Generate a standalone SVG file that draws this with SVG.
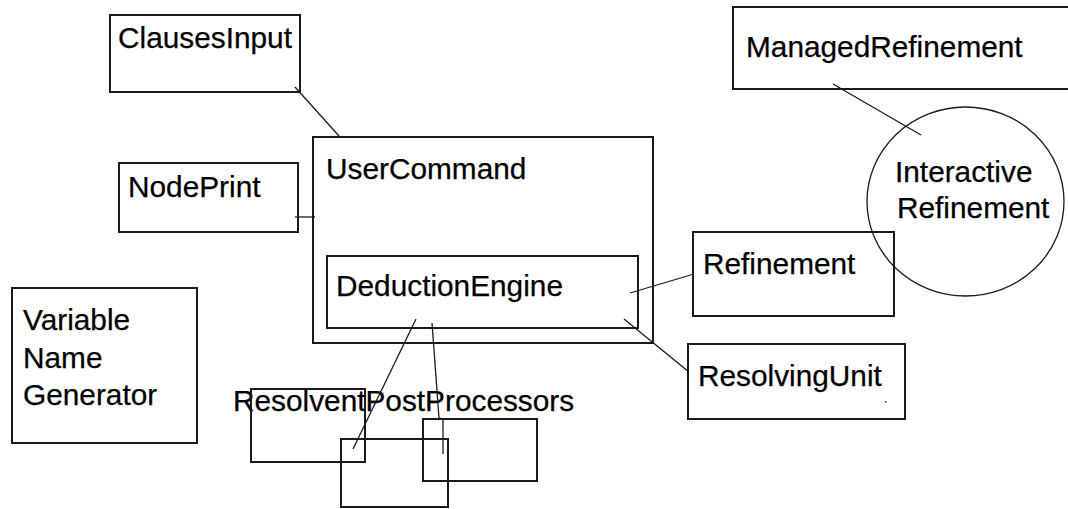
<svg xmlns="http://www.w3.org/2000/svg" width="1068" height="509" viewBox="0 0 1068 509">
<style>
.box{fill:none;stroke:#1a1a1a;stroke-width:2}
.conn{fill:none;stroke:#1a1a1a;stroke-width:1.3}
text{font-family:"Liberation Sans",Arial,sans-serif;font-size:29.8px;fill:#000;stroke:#000;stroke-width:0.25}
</style>
<rect width="1068" height="509" fill="#fff"/>
<g id="ClausesInput"><rect class="box" x="110" y="15" width="190" height="77"/><text x="118" y="48">ClausesInput</text></g>
<g id="NodePrint"><rect class="box" x="119" y="163" width="179" height="69"/><text x="128" y="197">NodePrint</text></g>
<g id="UserCommand"><rect class="box" x="313" y="137" width="340" height="206"/><text x="326" y="179">UserCommand</text></g>
<g id="DeductionEngine"><rect class="box" x="327" y="256" width="311" height="72"/><text x="336" y="296">DeductionEngine</text></g>
<g id="VariableNameGenerator"><rect class="box" x="12" y="288" width="185" height="155"/><text x="23" y="330">Variable</text><text x="23" y="368">Name</text><text x="23" y="405">Generator</text></g>
<g id="ManagedRefinement"><rect class="box" x="733" y="7" width="340" height="82"/><text x="746" y="57">ManagedRefinement</text></g>
<g id="InteractiveRefinement"><ellipse cx="965.5" cy="201.5" rx="98.5" ry="94.5" fill="none" stroke="#1a1a1a" stroke-width="1.3"/><text x="895" y="182">Interactive</text><text x="897" y="218">Refinement</text></g>
<g id="Refinement"><rect class="box" x="693" y="232" width="201" height="84"/><text x="703" y="274">Refinement</text></g>
<g id="ResolvingUnit"><rect class="box" x="688" y="344" width="217" height="75"/><text x="698" y="386">ResolvingUnit</text><rect x="885" y="401" width="1.5" height="1.5" fill="#333"/></g>
<g id="ResolventPostProcessors"><text x="233" y="411">ResolventPostProcessors</text></g>
<g id="PostProcessorA"><rect class="box" x="251" y="389" width="114" height="73"/></g>
<g id="PostProcessorB"><rect class="box" x="341" y="439" width="107" height="68"/></g>
<g id="PostProcessorC"><rect class="box" x="423" y="419" width="114" height="62"/></g>
<g id="connectors">
<line class="conn" x1="295" y1="87" x2="339" y2="136"/>
<line class="conn" x1="295" y1="217" x2="315" y2="217"/>
<line class="conn" x1="630" y1="293" x2="694" y2="274"/>
<line class="conn" x1="624" y1="319" x2="689" y2="372"/>
<line class="conn" x1="833" y1="84" x2="921" y2="135"/>
<line class="conn" x1="416" y1="319" x2="353" y2="449"/>
<polyline class="conn" points="432,323 439,418 443,419 443,454"/>
</g>
</svg>
